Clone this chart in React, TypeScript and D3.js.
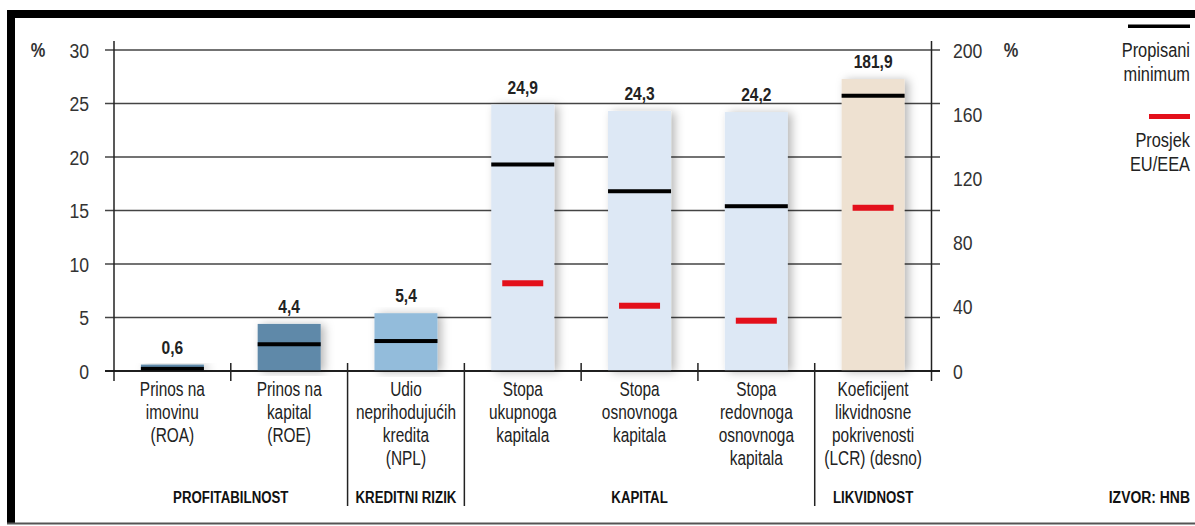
import React from "react";
import * as d3 from "d3";

const categories: string[][] = [
  ["Prinos na", "imovinu", "(ROA)"],
  ["Prinos na", "kapital", "(ROE)"],
  ["Udio", "neprihodujućih", "kredita", "(NPL)"],
  ["Stopa", "ukupnoga", "kapitala"],
  ["Stopa", "osnovnoga", "kapitala"],
  ["Stopa", "redovnoga", "osnovnoga", "kapitala"],
  ["Koeficijent", "likvidnosne", "pokrivenosti", "(LCR) (desno)"],
];
const valueLabels = ["0,6", "4,4", "5,4", "24,9", "24,3", "24,2", "181,9"];
const values = [0.6, 4.4, 5.4, 24.9, 24.3, 24.2, 181.9];
const minimums = [0.2, 2.5, 2.8, 19.3, 16.8, 15.4, 171.5];
const euAverages: (number | null)[] = [null, null, null, 8.2, 6.1, 4.7, 101.7];
const onRightAxis = [false, false, false, false, false, false, true];
const barColors = ["#5e89a9", "#5e89a9", "#93bcdb", "#dde8f5", "#dde8f5", "#dde8f5", "#eee1d1"];
const groups = [
  { name: "PROFITABILNOST", from: 0, to: 2 },
  { name: "KREDITNI RIZIK", from: 2, to: 3 },
  { name: "KAPITAL", from: 3, to: 6 },
  { name: "LIKVIDNOST", from: 6, to: 7 },
];
const leftTicks = [0, 5, 10, 15, 20, 25, 30];
const rightTicks = [0, 40, 80, 120, 160, 200];

const FONT = "'Liberation Sans', Arial, sans-serif";

type TProps = {
  x: number;
  y: number;
  sx?: number;
  anchor?: "start" | "middle" | "end";
  size: number;
  bold?: boolean;
  fill?: string;
  dy?: string;
  children: React.ReactNode;
};
function T({ x, y, sx = 0.8, anchor = "middle", size, bold, fill = "#222", dy, children }: TProps) {
  return (
    <text
      transform={`translate(${x},${y}) scale(${sx},1)`}
      textAnchor={anchor}
      fontSize={size}
      fontWeight={bold ? "bold" : "normal"}
      fill={fill}
      dy={dy}
    >
      {children}
    </text>
  );
}

export default function App() {
  const W = 1195, H = 526;
  const x0 = 114, x1 = 931.5;
  const yTop = 50, yBottom = 371;
  const x = d3.scaleBand<number>().domain(d3.range(categories.length)).range([x0, x1]).paddingInner(0).paddingOuter(0);
  const yL = d3.scaleLinear().domain([0, 30]).range([yBottom, yTop]);
  const yR = d3.scaleLinear().domain([0, 200]).range([yBottom, yTop]);
  const bw = x.bandwidth();
  const barW = 63;
  const redW = 41;
  const yFor = (i: number) => (onRightAxis[i] ? yR : yL);

  const groupBoundaries = [2, 3, 6];
  const shortTicks = [1, 4, 5];

  return (
    <svg width={W} height={H} style={{ position: "absolute", left: 0, top: 0, background: "#fff" }} fontFamily={FONT}>
      <defs>
        <filter id="shadow" x="-30%" y="-10%" width="160%" height="120%">
          <feDropShadow dx="4" dy="1" stdDeviation="5" floodColor="#000" floodOpacity="0.28" />
        </filter>
      </defs>
      <rect x={0} y={0} width={W} height={H} fill="#fff" />
      {/* frame */}
      <rect x={7} y={10} width={W - 7} height={8} fill="#000" />
      <rect x={7} y={10} width={8} height={514} fill="#000" />
      <rect x={7} y={522.5} width={W - 7} height={2} fill="#555" />

      {/* gridlines */}
      {leftTicks.map((t) => (
        <line key={"g" + t} x1={105} x2={940} y1={yL(t)} y2={yL(t)} stroke={t === 0 ? "#111" : "#444"} strokeWidth={1.7} />
      ))}
      {/* axes */}
      <line x1={x0} x2={x0} y1={41} y2={381} stroke="#222" strokeWidth={1.5} />
      <line x1={x1} x2={x1} y1={41} y2={381} stroke="#222" strokeWidth={1.5} />

      {/* tick labels */}
      {leftTicks.map((t) => (
        <T key={"lt" + t} x={89} y={yL(t)} dy="0.36em" anchor="end" size={21} sx={0.84} fill="#333">
          {t}
        </T>
      ))}
      <T x={38} y={yL(30)} dy="0.36em" size={20} bold sx={0.82} fill="#333">%</T>
      {rightTicks.map((t) => (
        <T key={"rt" + t} x={953} y={yR(t)} dy="0.36em" anchor="start" size={21} sx={0.84} fill="#333">
          {t}
        </T>
      ))}
      <T x={1011} y={yR(200)} dy="0.36em" size={20} bold sx={0.82} fill="#333">%</T>

      {/* bars */}
      {values.map((v, i) => {
        const y = yFor(i);
        const cx = (x(i) as number) + bw / 2;
        return (
          <rect key={"b" + i} x={cx - barW / 2} y={y(v)} width={barW} height={yBottom - y(v)} fill={barColors[i]} filter="url(#shadow)" />
        );
      })}
      {values.map((v, i) => {
        const y = yFor(i);
        const cx = (x(i) as number) + bw / 2;
        const eu = euAverages[i];
        return (
          <g key={"m" + i}>
            <rect x={cx - barW / 2} y={y(minimums[i]) - 2} width={barW} height={4} fill="#000" />
            {eu !== null && <rect x={cx - redW / 2} y={y(eu) - 3} width={redW} height={6} fill="#e3101b" />}
            <T x={cx} y={y(v) - 11} size={19} bold sx={0.82} fill="#222">
              {valueLabels[i]}
            </T>
          </g>
        );
      })}

      {/* zero line over bars */}
      <line x1={105} x2={940} y1={yBottom} y2={yBottom} stroke="#111" strokeWidth={1.7} />

      {/* category dividers */}
      {shortTicks.map((i) => (
        <line key={"st" + i} x1={x(i) as number} x2={x(i) as number} y1={363} y2={381} stroke="#222" strokeWidth={1.5} />
      ))}
      {groupBoundaries.map((i) => (
        <line key={"gb" + i} x1={x(i) as number} x2={x(i) as number} y1={363} y2={506} stroke="#222" strokeWidth={1.5} />
      ))}

      {/* category labels */}
      {categories.map((lines, i) => {
        const cx = (x(i) as number) + bw / 2;
        return (
          <g key={"c" + i}>
            {lines.map((l, j) => (
              <T key={j} x={cx} y={396 + j * 23} size={19.5} sx={0.79} fill="#222">
                {l}
              </T>
            ))}
          </g>
        );
      })}

      {/* group labels */}
      {groups.map((g) => {
        const cx = ((x(g.from) as number) + (x(g.to - 1) as number) + bw) / 2;
        return (
          <T key={g.name} x={cx} y={503} size={17} bold sx={0.78} fill="#111">
            {g.name}
          </T>
        );
      })}
      <T x={1190} y={503} anchor="end" size={17} bold sx={0.82} fill="#111">IZVOR: HNB</T>

      {/* legend */}
      <rect x={1128} y={24.5} width={62} height={3.5} fill="#000" />
      <T x={1190} y={57} anchor="end" size={21} sx={0.78}>Propisani</T>
      <T x={1190} y={81} anchor="end" size={21} sx={0.78}>minimum</T>
      <rect x={1149} y={114} width={41} height={5} fill="#e3101b" />
      <T x={1190} y={147} anchor="end" size={21} sx={0.78}>Prosjek</T>
      <T x={1190} y={171} anchor="end" size={21} sx={0.78}>EU/EEA</T>
    </svg>
  );
}
